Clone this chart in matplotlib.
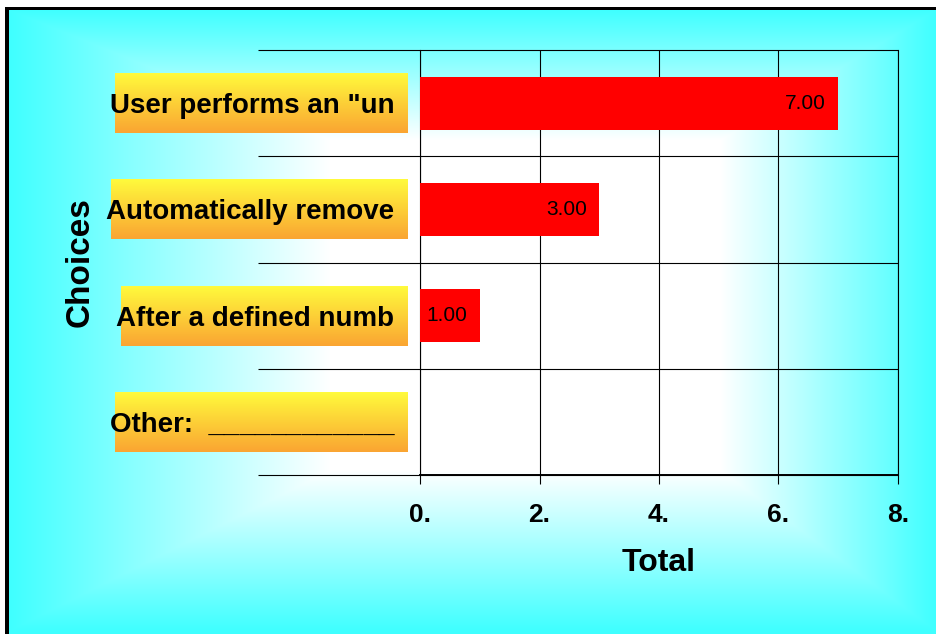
import numpy as np
import matplotlib
matplotlib.use("Agg")
import matplotlib.pyplot as plt
from matplotlib.ticker import FuncFormatter

# data
choices = ['User performs an "un', 'Automatically remove', 'After a defined numb', 'Other:  ____________']
totals = [7.0, 3.0, 1.0, 0.0]
x_ticks = [0, 2, 4, 6, 8]

plt.rcParams['font.family'] = ['Liberation Sans', 'DejaVu Sans']

W, H = 936, 634
fig = plt.figure(figsize=(W / 100, H / 100), dpi=100)

# background: cyan fading to white toward the middle, black frame top/left
yy, xx = np.mgrid[0:H, 0:W]
tx = np.maximum((330 - xx) / 320, (xx - 720) / 215)
ty = np.maximum((140 - yy) / 130, (yy - 470) / 160)
t = np.clip(np.maximum(tx, ty), 0, 1)[..., None]
cyan = np.array([64, 255, 255]) / 255
bg = (1 - t) * np.ones(3) + t * cyan
bg[:7, :] = 1
bg[:, :5] = 1
bg[7:10, 5:] = 0
bg[7:, 5:9] = 0
fig.figimage(bg, 0, 0, origin='upper', zorder=0)

ax = fig.add_axes([420 / W, 1 - 475 / H, 478 / W, 425 / H])
ax.set_facecolor('none')
ax.set_zorder(2)

ypos = np.arange(len(choices))
ax.barh(ypos, totals, height=0.5, color='#FF0000', zorder=3)
ax.set_xlim(0, 8)
ax.set_ylim(len(choices) - 0.5, -0.5)

ax.set_xticks(x_ticks)
ax.xaxis.set_major_formatter(FuncFormatter(lambda v, p: f'{v:.0f}.'))
ax.set_yticks(ypos)
ax.set_yticklabels(choices, fontsize=20, fontweight='bold')
ax.tick_params(axis='y', length=0, pad=18.5)
ax.tick_params(axis='x', length=6.5, width=0.8, direction='out', pad=14, labelsize=19)
for lab in ax.get_xticklabels():
    lab.set_fontweight('bold')

ax.grid(axis='x', color='black', lw=0.8, zorder=1)
# row separators run out past the axis into the label area
ax.hlines(np.arange(len(choices) + 1) - 0.5, -0.339, 1, transform=ax.get_yaxis_transform(),
          colors='black', lw=0.8, clip_on=False, zorder=1)
ax.spines['top'].set_visible(False)
for s in ['left', 'right']:
    ax.spines[s].set_linewidth(0.8)
ax.spines['bottom'].set_linewidth(1.4)

for y, v in zip(ypos, totals):
    if v > 0:
        ax.annotate(f'{v:.2f}', (v, y), xytext=(-9, 0), textcoords='offset points',
                    ha='right', va='center', fontsize=15, zorder=4)

ax.set_xlabel('Total', fontsize=23, fontweight='bold')
ax.xaxis.set_label_coords(0.5, -0.172)
ax.set_ylabel('Choices', fontsize=24, fontweight='bold')
ax.yaxis.set_label_coords(-0.678, 0.5)

# yellow-to-orange boxes behind the category labels
fig.canvas.draw()
renderer = fig.canvas.get_renderer()
top_col = np.array([255, 250, 60]) / 255
bot_col = np.array([250, 165, 50]) / 255
for lab, y in zip(ax.get_yticklabels(), ypos):
    bb = lab.get_window_extent(renderer)
    x0 = int(round(bb.x0 + 5))
    x1 = int(round(bb.x1 + 14))
    yc = ax.transData.transform((0, y))[1]
    h = 60
    f = np.linspace(0, 1, h)[:, None, None]
    box = (1 - f) * top_col + f * bot_col
    box = np.repeat(box, x1 - x0, axis=1)
    fig.figimage(box, xo=x0, yo=int(round(yc - h / 2)), origin='upper', zorder=1)

fig.savefig('out.png', dpi=100)
